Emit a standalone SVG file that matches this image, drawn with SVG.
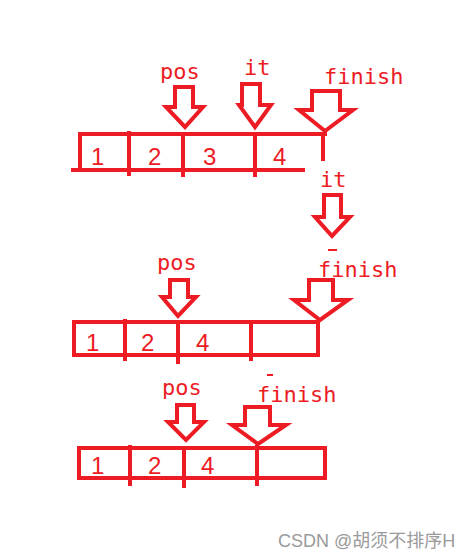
<svg xmlns="http://www.w3.org/2000/svg" width="476" height="559" viewBox="0 0 476 559">
<style>
.ln{fill:none;stroke:#ED1C24;stroke-width:4;stroke-linecap:square;stroke-linejoin:miter}
.ds{fill:none;stroke:#ED1C24;stroke-width:2}
.ar{fill:none;stroke:#ED1C24;stroke-width:4;stroke-linejoin:miter}
.lb{font-family:"DejaVu Sans Mono",monospace;font-size:22px;fill:#ED1C24}
.dg{font-family:"Liberation Sans",Arial,sans-serif;font-size:24px;fill:#ED1C24}
.wm{font-family:"Liberation Sans","Noto Sans CJK SC",sans-serif;font-size:18px;fill:#9a9a9a}
</style>
<rect width="476" height="559" fill="#fff"/>
<g id="connectors">
<path class="ar" d="M175,87 H193 V107 H203 L185,127 L166,107 H175 Z"/>
<path class="ar" d="M242,84 H260 V105 H271 L255,127 L239,105 H242 Z"/>
<path class="ar" d="M312,91 H340 V110 H353 L325,131 L299,110 H312 Z"/>
<path class="ar" d="M324,195 H341 V217 H350 L332,236 L315,217 H324 Z"/>
<path class="ar" d="M170,280 H188 V297 H196 L178,316 L162,297 H170 Z"/>
<path class="ar" d="M309,280 H333 V300 H348 L320,320 L294,300 H309 Z"/>
<path class="ar" d="M177,405 H194 V422 H204 L186,440 L168,422 H177 Z"/>
<path class="ar" d="M245,407 H270 V425 H286 L258,444 L232,425 H245 Z"/>
</g>
<g id="array1">
<path class="ln" d="M80,134 H325 M80,134 V170 M73,170 H303 M129,133 V174 M183,134 V175 M255,134 V175 M323,134 V159"/>
<text class="dg" x="91" y="165">1</text>
<text class="dg" x="148" y="165">2</text>
<text class="dg" x="203" y="165">3</text>
<text class="dg" x="273" y="165">4</text>
</g>
<g id="labels1">
<text class="lb" x="160" y="79">pos</text>
<text class="lb" x="244" y="75">it</text>
<text class="lb" x="324" y="84">finish</text>
<text class="lb" x="320" y="187">it</text>
<path class="ds" d="M328,250 H337"/>
<text class="lb" x="318" y="277">finish</text>
</g>
<g id="array2">
<path class="ln" d="M74,322 H318 V355 H74 Z M125,321 V359 M178,322 V362 M251,322 V359"/>
<text class="dg" x="86" y="351">1</text>
<text class="dg" x="141" y="351">2</text>
<text class="dg" x="196" y="351">4</text>
<text class="lb" x="157" y="270">pos</text>
</g>
<g id="array3">
<path class="ln" d="M79,448 H325 V478 H79 Z M130,447 V484 M184,448 V486 M257,447 V484"/>
<text class="dg" x="91" y="474">1</text>
<text class="dg" x="148" y="474">2</text>
<text class="dg" x="201" y="474">4</text>
<text class="lb" x="162" y="395">pos</text>
<path class="ds" d="M267,375 H273"/>
<text class="lb" x="257" y="402">finish</text>
</g>
<text class="wm" x="278" y="547">CSDN @胡须不排序H</text>
</svg>
